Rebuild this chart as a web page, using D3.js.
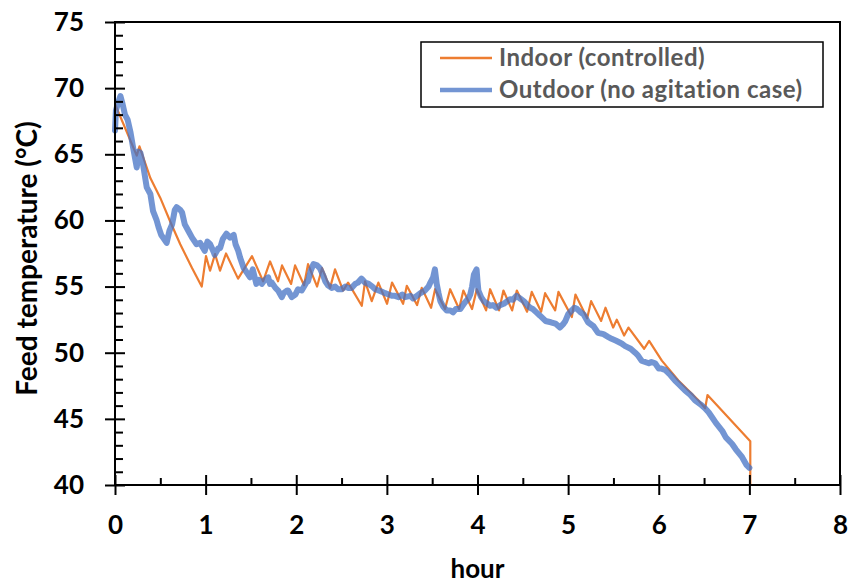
<!DOCTYPE html>
<html>
<head>
<meta charset="utf-8">
<script src="https://cdn.jsdelivr.net/npm/d3@7"></script>
<style>
  body { margin: 0; background: #fff; }
  svg { display: block; font-family: Lato, "Open Sans", sans-serif; }
</style>
</head>
<body>
<div id="canvas"></div>
<script>
// series: [hour, temperature °C]
const indoor = [
    [0.00, 68.8], [0.24, 64.9], [0.27, 65.6], [0.39, 63.2], [0.50, 61.7], [0.61, 59.9],
    [0.72, 58.2], [0.85, 56.4], [0.957, 55.0],
    [1.004, 57.3], [1.049, 56.2], [1.104, 57.45], [1.159, 56.2], [1.225, 57.5], [1.358, 55.6],
    [1.512, 57.3], [1.634, 55.4], [1.711, 56.9], [1.799, 55.4], [1.843, 56.6], [1.943, 55.2],
    [1.987, 56.6], [2.086, 55.1], [2.130, 56.7], [2.230, 55.0], [2.285, 56.4], [2.373, 54.9],
    [2.428, 56.3], [2.517, 54.7], [2.572, 55.3], [2.723, 53.55], [2.759, 55.4], [2.833, 53.9],
    [2.906, 55.3], [3.002, 53.7], [3.057, 55.3], [3.179, 53.7], [3.220, 55.06], [3.333, 53.6],
    [3.385, 54.9], [3.488, 53.4], [3.532, 54.8], [3.642, 53.3], [3.698, 54.8], [3.797, 53.3],
    [3.844, 54.7], [3.940, 53.3], [3.992, 54.8], [4.095, 53.2], [4.139, 54.8], [4.238, 53.2],
    [4.286, 54.7], [4.382, 53.2], [4.434, 54.7], [4.547, 53.1], [4.599, 54.6], [4.702, 53.1],
    [4.746, 54.5], [4.857, 53.2], [4.893, 54.6], [5.041, 52.7], [5.081, 54.4], [5.210, 52.6],
    [5.254, 53.9], [5.364, 52.4], [5.412, 53.4], [5.497, 51.9], [5.537, 52.5], [5.618, 51.3],
    [5.666, 51.9], [5.839, 50.3], [5.894, 50.9], [6.034, 49.4], [6.217, 47.9], [6.438, 46.4],
    [6.512, 45.8], [6.538, 46.8], [7.010, 43.3], [7.010, 40.0]
];
const outdoor = [
    [0.00, 66.8], [0.01, 68.3], [0.03, 68.8], [0.06, 69.4], [0.08, 68.9], [0.11, 68.0], [0.14, 67.6],
    [0.17, 66.7], [0.20, 65.5], [0.24, 64.0], [0.26, 65.2], [0.28, 65.1], [0.31, 64.2], [0.35, 62.5],
    [0.39, 62.0], [0.42, 60.7], [0.46, 60.0], [0.48, 59.5], [0.51, 58.9], [0.53, 58.7], [0.57, 58.3],
    [0.60, 59.2], [0.63, 59.7], [0.66, 60.8], [0.68, 61.0], [0.72, 60.8], [0.74, 60.6], [0.77, 59.7],
    [0.81, 59.2], [0.85, 58.7], [0.90, 58.2], [0.94, 58.3], [0.99, 57.7], [1.02, 58.4], [1.05, 58.2],
    [1.09, 57.6], [1.10, 57.4], [1.14, 57.9], [1.16, 57.9], [1.19, 58.6], [1.23, 59.0], [1.27, 58.7],
    [1.31, 58.9], [1.33, 58.2], [1.36, 57.7], [1.38, 57.2], [1.42, 56.4], [1.46, 56.0], [1.49, 55.7],
    [1.52, 56.3], [1.56, 55.2], [1.59, 55.5], [1.62, 55.2], [1.64, 55.4], [1.67, 55.6], [1.69, 55.7],
    [1.71, 55.2], [1.73, 55.3], [1.77, 54.9], [1.80, 54.7], [1.84, 54.2], [1.86, 54.5], [1.90, 54.7],
    [1.91, 54.7], [1.95, 54.2], [1.99, 54.4], [2.02, 54.8], [2.06, 54.7], [2.12, 55.4], [2.13, 55.4],
    [2.16, 56.2], [2.19, 56.7], [2.23, 56.6], [2.26, 56.4], [2.30, 55.8], [2.32, 55.4], [2.35, 55.1],
    [2.39, 54.9], [2.43, 55.0], [2.46, 54.8], [2.50, 54.8], [2.54, 55.0], [2.57, 54.9], [2.61, 54.9],
    [2.65, 55.2], [2.68, 55.3], [2.72, 55.6], [2.76, 55.3], [2.80, 55.2], [2.84, 55.0], [2.87, 54.8],
    [2.91, 54.7], [2.95, 54.6], [2.98, 54.5], [3.02, 54.4], [3.06, 54.3], [3.09, 54.3], [3.13, 54.2],
    [3.17, 54.4], [3.20, 54.2], [3.26, 54.3], [3.29, 54.1], [3.33, 54.3], [3.37, 54.5], [3.42, 54.7],
    [3.46, 55.0], [3.48, 55.3], [3.51, 55.7], [3.53, 56.3], [3.55, 55.2], [3.57, 54.5], [3.59, 53.9],
    [3.62, 53.5], [3.66, 53.2], [3.70, 53.2], [3.73, 53.05], [3.76, 53.3], [3.81, 53.3], [3.84, 53.6],
    [3.86, 53.8], [3.90, 54.1], [3.92, 54.4], [3.94, 55.0], [3.96, 55.9], [3.99, 56.3], [4.00, 55.4],
    [4.01, 54.7], [4.04, 54.2], [4.07, 53.9], [4.11, 53.7], [4.14, 53.55], [4.17, 53.6], [4.21, 53.4],
    [4.25, 53.6], [4.29, 53.7], [4.33, 53.9], [4.36, 54.05], [4.39, 54.0], [4.43, 54.3], [4.47, 54.1],
    [4.51, 53.9], [4.55, 53.6], [4.58, 53.4], [4.61, 53.3], [4.65, 53.05], [4.69, 52.8], [4.75, 52.4],
    [4.81, 52.3], [4.86, 52.2], [4.91, 51.9], [4.95, 52.2], [4.97, 52.4], [5.00, 52.9], [5.04, 53.2],
    [5.07, 53.4], [5.10, 53.3], [5.13, 53.1], [5.17, 52.9], [5.22, 52.3], [5.28, 52.0], [5.33, 51.5],
    [5.39, 51.4], [5.44, 51.2], [5.48, 51.05], [5.53, 50.9], [5.59, 50.7], [5.63, 50.5], [5.69, 50.3],
    [5.74, 50.0], [5.77, 49.8], [5.81, 49.4], [5.85, 49.3], [5.89, 49.2], [5.92, 49.3], [5.96, 49.2],
    [6.00, 48.8], [6.03, 48.8], [6.07, 48.7], [6.13, 48.3], [6.18, 47.9], [6.24, 47.5], [6.29, 47.15],
    [6.35, 46.8], [6.40, 46.4], [6.46, 46.1], [6.51, 45.8], [6.55, 45.5], [6.59, 45.1], [6.63, 44.7],
    [6.70, 44.1], [6.74, 43.6], [6.81, 43.1], [6.85, 42.7], [6.92, 42.1], [6.97, 41.5], [7.00, 41.3]
];
const xTicks = [0, 1, 2, 3, 4, 5, 6, 7, 8];
const xMinor = [0.5, 1.5, 2.5, 3.5, 4.5, 5.5, 6.5, 7.5];
const yTicks = [40, 45, 50, 55, 60, 65, 70, 75];
const yMinor = d3.range(41, 75).filter(v => v % 5 !== 0);
const seriesNames = ["Indoor (controlled)", "Outdoor (no agitation case)"];

const width = 852;
const height = 586;
const margin = { top: 22, left: 115, bottom: 101, right: 12 };
const iwidth = width - margin.left - margin.right;
const iheight = height - margin.top - margin.bottom;
const orange = "#ED7D31";
const blue = "#4472C4";

const svg = d3.select("#canvas").append("svg")
    .attr("width", width)
    .attr("height", height);

const g = svg.append("g").attr("transform", `translate(${margin.left},${margin.top})`);

const x = d3.scaleLinear().domain([0, 8]).range([0, iwidth]);
const y = d3.scaleLinear().domain([40, 75]).range([iheight, 0]);

const line = d3.line().x(d => x(d[0])).y(d => y(d[1]));

g.append("path")
    .datum(indoor)
    .attr("fill", "none")
    .attr("stroke", orange)
    .attr("stroke-width", 2.2)
    .attr("stroke-linejoin", "round")
    .attr("d", line);

g.append("path")
    .datum(outdoor)
    .attr("fill", "none")
    .attr("stroke", blue)
    .attr("stroke-opacity", 0.75)
    .attr("stroke-width", 6)
    .attr("stroke-linejoin", "round")
    .attr("stroke-linecap", "round")
    .attr("d", line);

// frame
g.append("rect")
    .attr("width", iwidth)
    .attr("height", iheight)
    .attr("fill", "none")
    .attr("stroke", "#000")
    .attr("stroke-width", 2);

// y axis: major ticks crossing, minor ticks inside
const yAxis = g.append("g")
    .call(d3.axisLeft(y).tickValues(yTicks).tickSize(10).tickPadding(21));
yAxis.selectAll(".tick line").attr("x1", 10);
g.append("g")
    .call(d3.axisRight(y).tickValues(yMinor).tickSize(8).tickFormat(""));

const xAxis = g.append("g")
    .attr("transform", `translate(0,${iheight})`)
    .call(d3.axisBottom(x).tickValues(xTicks).tickSize(10).tickPadding(21));
xAxis.selectAll(".tick line").attr("y1", -10);
g.append("g")
    .attr("transform", `translate(0,${iheight})`)
    .call(d3.axisTop(x).tickValues(xMinor).tickSize(7).tickFormat(""));

g.selectAll(".domain").remove();
g.selectAll(".tick line").attr("stroke", "#000").attr("stroke-width", 2);
g.selectAll(".tick text")
    .attr("fill", "#000")
    .style("font-size", "26px")
    .style("font-weight", "bold")
    .style("font-family", "Lato, sans-serif");

svg.append("text")
    .attr("transform", "rotate(-90)")
    .attr("x", -(margin.top + iheight / 2) - 5)
    .attr("y", 37)
    .attr("text-anchor", "middle")
    .style("font-size", "28px")
    .style("font-weight", "bold")
    .text("Feed temperature (°C)");

svg.append("text")
    .attr("x", margin.left + iwidth / 2)
    .attr("y", 578)
    .attr("text-anchor", "middle")
    .style("font-size", "26px")
    .style("font-weight", "bold")
    .text("hour");

// legend
const legend = svg.append("g").attr("transform", "translate(421,42)");
legend.append("rect")
    .attr("width", 402)
    .attr("height", 65)
    .attr("fill", "#fff")
    .attr("stroke", "#000")
    .attr("stroke-width", 1.5);
const items = legend.selectAll("g.item")
    .data(seriesNames)
    .enter().append("g")
    .attr("class", "item")
    .attr("transform", (d, i) => `translate(0,${16 + i * 32})`);
items.append("line")
    .attr("x1", 19).attr("x2", 71)
    .attr("stroke", (d, i) => i === 0 ? orange : blue)
    .attr("stroke-opacity", (d, i) => i === 0 ? 1 : 0.75)
    .attr("stroke-width", (d, i) => i === 0 ? 2.5 : 4.5);
items.append("text")
    .attr("x", 78)
    .attr("dy", "0.35em")
    .attr("fill", "#595959")
    .style("font-size", "24px")
    .style("font-weight", "bold")
    .style("letter-spacing", "0.5px")
    .text(d => d);
</script>
</body>
</html>
